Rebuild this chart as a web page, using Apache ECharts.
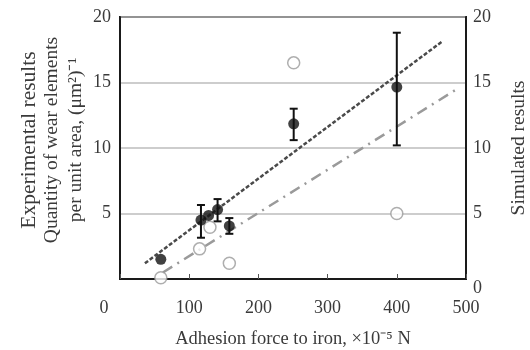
<!DOCTYPE html>
<html>
<head>
<meta charset="utf-8">
<script src="https://cdn.jsdelivr.net/npm/echarts@6/dist/echarts.min.js"></script>
<style>
  html, body { margin: 0; padding: 0; background: #fff; }
  #chart { width: 530px; height: 350px; }
</style>
</head>
<body>
<div id="chart"></div>
<script>
// experimental results (filled dots + error bars)
const expX = [59, 117, 128, 141, 158, 251, 400]
const expY = [1.5, 4.5, 4.85, 5.3, 4.05, 11.85, 14.65]
const expLow = [null, 3.15, null, 4.4, 3.45, 10.6, 10.2]
const expHigh = [null, 5.65, null, 6.1, 4.65, 13.0, 18.8]

// simulated results (open circles)
const simX = [59, 115, 130, 158, 251, 400]
const simY = [0.1, 2.3, 3.95, 1.2, 16.5, 5.0]

// trend lines (end points)
const expFitX = [36, 466]
const expFitY = [1.2, 18.15]
const simFitX = [62, 487]
const simFitY = [0.5, 14.5]

const xTicks = [0, 100, 200, 300, 400, 500]
const yTicks = [0, 5, 10, 15, 20]

const FONT = 'Liberation Serif'
const TXT = '#3a3a3a'

const zip = (xs, ys) => xs.map((x, i) => [x, ys[i]])
const errData = expX
  .map((x, i) => [x, expLow[i], expHigh[i]])
  .filter((d) => d[1] !== null)

const chart = echarts.init(document.getElementById('chart'))

chart.setOption({
  animation: false,
  backgroundColor: '#fff',
  grid: {
    left: 120, right: 64, top: 17, bottom: 71,
    outerBoundsMode: 'none',
    show: true, borderColor: '#1a1a1a', borderWidth: 2, backgroundColor: 'transparent',
  },
  xAxis: {
    type: 'value',
    min: xTicks[0],
    max: xTicks[xTicks.length - 1],
    interval: 100,
    name: 'Adhesion force to iron, ×10⁻⁵ N',
    nameLocation: 'middle',
    nameGap: 51,
    nameTextStyle: { fontFamily: FONT, fontSize: 18.5, color: TXT },
    axisLine: { lineStyle: { color: '#1a1a1a', width: 2 } },
    axisTick: { inside: true, length: 5, lineStyle: { color: '#555' } },
    splitLine: { show: false },
    axisLabel: {
      margin: 20,
      fontFamily: FONT, fontSize: 18, color: TXT,
      formatter: (v) => (v === 0 ? '{z|0}' : String(v)),
      rich: { z: { fontFamily: FONT, fontSize: 18, color: TXT, padding: [0, 32, 0, 0] } },
    },
  },
  yAxis: [
    {
      type: 'value',
      position: 'left',
      min: yTicks[0],
      max: yTicks[yTicks.length - 1],
      interval: 5,
      name: '{a|Experimental results}\n{b|Quantity of wear elements}\n{b|per unit area, (μm²)⁻¹}',
      nameLocation: 'middle',
      nameRotate: 90,
      nameMoveOverlap: false,
      nameGap: 32,
      nameTextStyle: {
        padding: [0, 0, 0, 16],
        rich: {
          a: { fontFamily: FONT, fontSize: 21.5, color: TXT, lineHeight: 21 },
          b: { fontFamily: FONT, fontSize: 19.5, color: TXT, lineHeight: 24 },
        },
      },
      axisLine: { show: true, lineStyle: { color: '#1a1a1a', width: 2 } },
      axisTick: { show: false },
      splitLine: { lineStyle: { color: '#bdbdbd', width: 1.5 } },
      axisLabel: {
        margin: 9,
        fontFamily: FONT, fontSize: 18, color: TXT,
        formatter: (v) => (v === 0 ? '' : String(v)),
      },
    },
    {
      type: 'value',
      position: 'right',
      min: yTicks[0],
      max: yTicks[yTicks.length - 1],
      interval: 5,
      name: 'Simulated results',
      nameLocation: 'middle',
      nameRotate: 90,
      nameGap: 43,
      nameTextStyle: { fontFamily: FONT, fontSize: 19.5, color: TXT },
      axisLine: { show: true, lineStyle: { color: '#1a1a1a', width: 2 } },
      axisTick: { show: false },
      splitLine: { show: false },
      axisLabel: {
        margin: 7,
        fontFamily: FONT, fontSize: 18, color: TXT,
        formatter: (v) => (v === 0 ? '{z|0}' : String(v)),
        rich: { z: { fontFamily: FONT, fontSize: 18, color: TXT, padding: [18, 0, 0, 0] } },
      },
    },
  ],
  series: [
    {
      type: 'line',
      data: zip(simFitX, simFitY),
      yAxisIndex: 1,
      symbol: 'none',
      lineStyle: { color: '#9a9a9a', width: 2.5, type: [11, 6, 2, 6] },
      z: 1,
    },
    {
      type: 'line',
      data: zip(expFitX, expFitY),
      symbol: 'none',
      lineStyle: { color: '#4a4a4a', width: 2.5, type: [4, 2] },
      z: 2,
    },
    {
      type: 'custom',
      data: errData,
      z: 3,
      renderItem: (params, api) => {
        const x = api.value(0)
        const lo = api.coord([x, api.value(1)])
        const hi = api.coord([x, api.value(2)])
        const cap = 4
        const style = { stroke: '#111', lineWidth: 2 }
        return {
          type: 'group',
          children: [
            { type: 'line', shape: { x1: lo[0], y1: lo[1], x2: hi[0], y2: hi[1] }, style },
            { type: 'line', shape: { x1: lo[0] - cap, y1: lo[1], x2: lo[0] + cap, y2: lo[1] }, style },
            { type: 'line', shape: { x1: hi[0] - cap, y1: hi[1], x2: hi[0] + cap, y2: hi[1] }, style },
          ],
        }
      },
    },
    {
      type: 'scatter',
      data: zip(simX, simY),
      yAxisIndex: 1,
      symbol: 'circle',
      symbolSize: 12,
      itemStyle: { color: '#fff', borderColor: '#9a9a9a', borderWidth: 1.5 },
      z: 4,
    },
    {
      type: 'scatter',
      data: zip(expX, expY),
      symbol: 'circle',
      symbolSize: 11,
      itemStyle: { color: '#111' },
      z: 5,
    },
  ],
})
</script>
</body>
</html>
